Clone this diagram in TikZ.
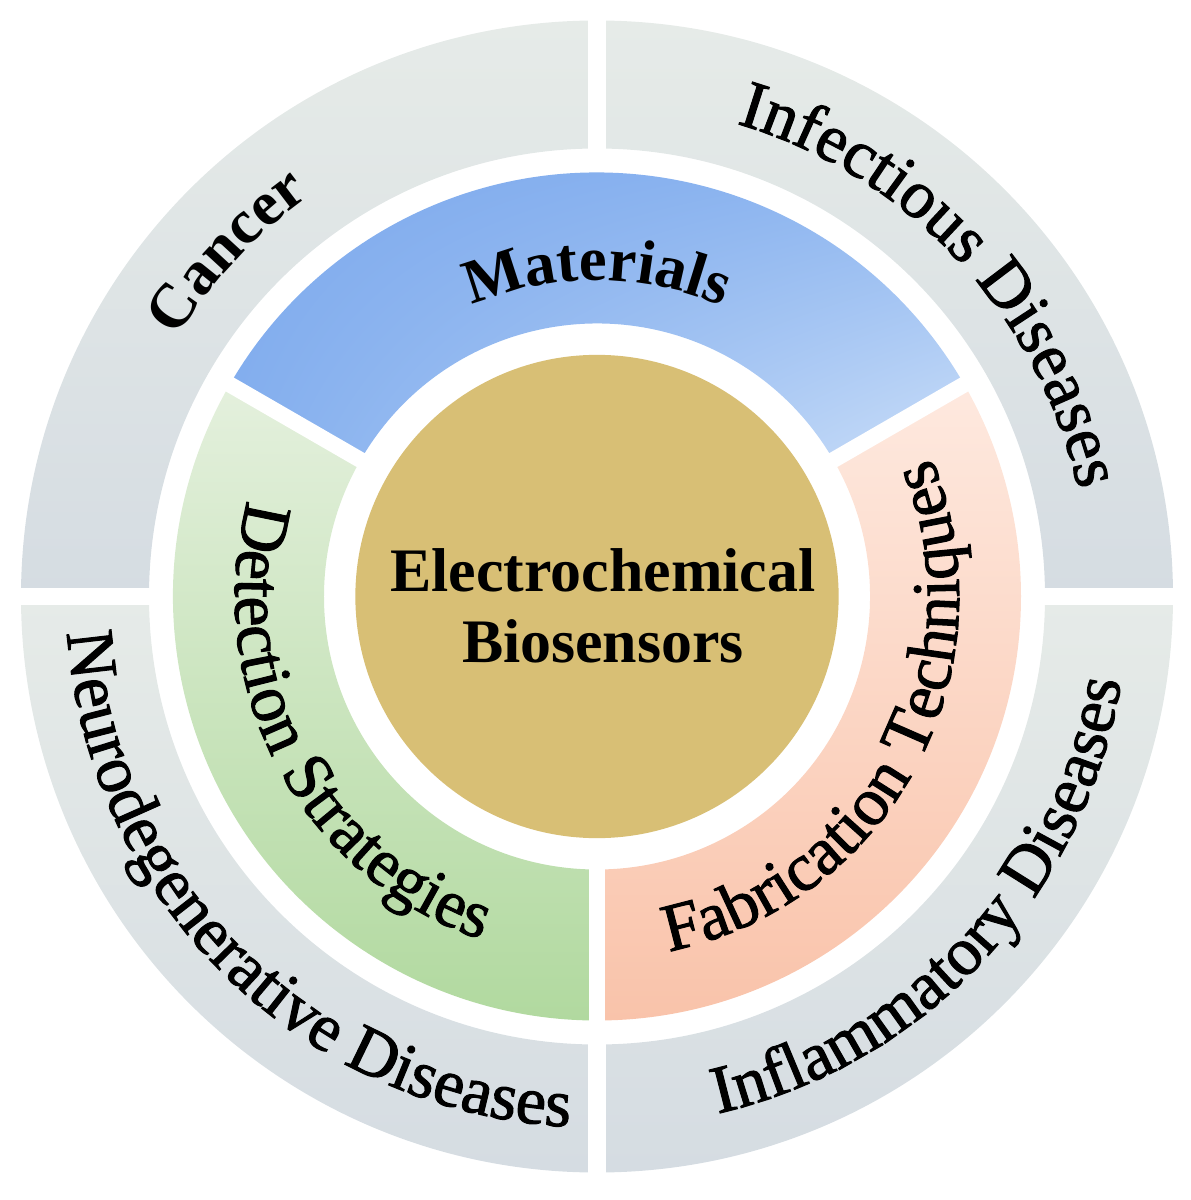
\documentclass[tikz,border=0pt]{standalone}
\usepackage{fontspec}
\setmainfont{Liberation Serif}
\newfontface\ringface{Liberation Serif}[FakeBold=1.5]
\usetikzlibrary{decorations.text, shadings}

\definecolor{ringtop}{HTML}{E6EBE8}
\definecolor{ringbot}{HTML}{D5DCE2}
\definecolor{matUL}{HTML}{7DA9ED}
\definecolor{matUR}{HTML}{82AEEE}
\definecolor{matLL}{HTML}{84AFEE}
\definecolor{matLR}{HTML}{CADEF8}
\definecolor{detTop}{HTML}{E4F0DD}
\definecolor{detMid}{HTML}{B9DCA9}
\definecolor{detBot}{HTML}{B1D99F}
\definecolor{fabTop}{HTML}{FEE9DF}
\definecolor{fabMid}{HTML}{FBD0BC}
\definecolor{fabBot}{HTML}{F9C3AA}
\definecolor{coreFill}{HTML}{D8BF75}

\newcommand{\ringfont}{\fontsize{19.3}{22}\ringface}
\newcommand{\ringbold}{\fontsize{17.8}{21}\selectfont\bfseries}

\begin{document}
\begin{tikzpicture}[x=0.01cm, y=0.01cm]
\useasboundingbox (-597,-603.5) rectangle (593,596.5);

% outer ring: four grey quadrants
\foreach \a in {0,90,180,270}
  \shade[top color=ringtop, bottom color=ringbot]
    (\a:576) arc[start angle=\a, end angle=\a+90, radius=576]
    -- ({\a+90}:448) arc[start angle=\a+90, end angle=\a, radius=448] -- cycle;
\draw[white, line width=0.17cm] (-600,0) -- (600,0);
\draw[white, line width=0.17cm] (0,-600) -- (0,600);

% middle ring: three sectors
\shade[upper left=matUL, upper right=matUR, lower left=matLL, lower right=matLR]
  (30:424) arc[start angle=30, end angle=150, radius=424]
  -- (150:273) arc[start angle=150, end angle=30, radius=273] -- cycle;
\shade[top color=detTop, middle color=detMid, bottom color=detBot]
  (150:424) arc[start angle=150, end angle=270, radius=424]
  -- (270:273) arc[start angle=270, end angle=150, radius=273] -- cycle;
\shade[top color=fabTop, middle color=fabMid, bottom color=fabBot]
  (270:424) arc[start angle=270, end angle=390, radius=424]
  -- (390:273) arc[start angle=390, end angle=270, radius=273] -- cycle;
\foreach \a in {30,150,270}
  \draw[white, line width=0.16cm] (0,0) -- (\a:440);

% core
\node (core) [circle, fill=coreFill, minimum size=4.83cm, inner sep=0] at (0,0) {};
\node (title) [align=center, inner sep=0, font=\fontsize{17.6}{20.2}\selectfont\bfseries] at (6,-9) {Electrochemical\\Biosensors};

% labels of the middle ring
\path[decorate, decoration={text along path, text align=center, text={|\ringbold|Materials}}]
  (170:316) arc[start angle=170, end angle=10, radius=316];
\path[decorate, decoration={text along path, text align=center, text={|\ringfont|Detection Strategies}}]
  (128:362) arc[start angle=128, end angle=288, radius=362];
\path[decorate, decoration={text along path, text align=center, text={|\ringfont|Fabrication Techniques}}]
  (252:362) arc[start angle=252, end angle=412, radius=362];

% labels of the outer ring
\path[decorate, decoration={text along path, text align=center, text={|\ringbold|Cancer}}]
  (217:493) arc[start angle=217, end angle=57, radius=493];
\path[decorate, decoration={text along path, text align=center, text={|\ringfont|Infectious Diseases}}]
  (123:493) arc[start angle=123, end angle=-37, radius=493];
\path[decorate, decoration={text along path, text align=center, text={|\ringfont|Neurodegenerative Diseases}}]
  (145.5:531) arc[start angle=145.5, end angle=305.5, radius=531];
\path[decorate, decoration={text along path, text align=center, text={|\ringfont|Inflammatory Diseases}}]
  (237:531) arc[start angle=237, end angle=397, radius=531];
\end{tikzpicture}
\end{document}
